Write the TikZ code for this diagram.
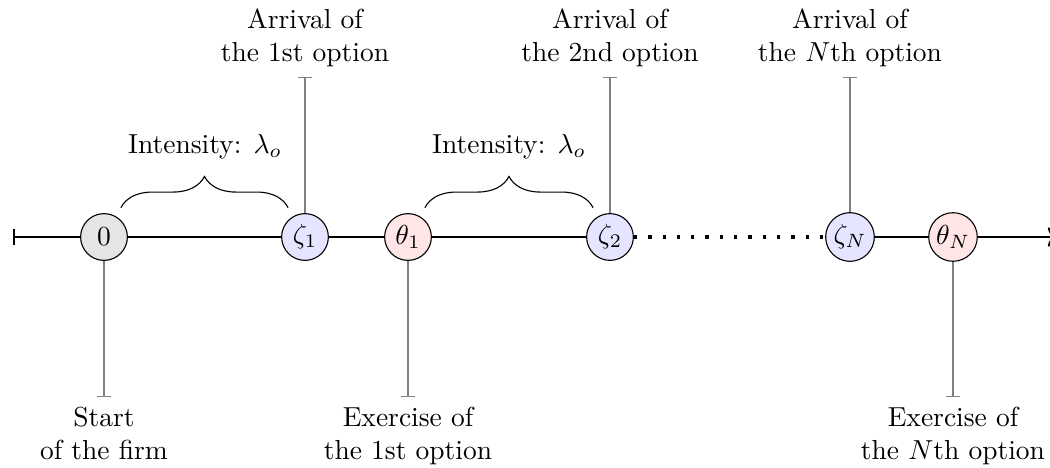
\documentclass[tikz,border=0pt]{standalone}
\usetikzlibrary{arrows.meta,decorations.pathreplacing}
\begin{document}
\begin{tikzpicture}[x=0.3636pt,y=-0.3636pt,
  ev/.style={circle,draw=black,thin,minimum size=17pt,inner sep=1pt},
  startev/.style={ev,fill=black!10},
  arrev/.style={ev,fill=blue!10},
  exev/.style={ev,fill=red!10},
  axisline/.style={thick},
  tickline/.style={gray,thin,-{Bar[width=5pt]}},
  lab/.style={align=center},
  bracepath/.style={decorate,decoration={brace,amplitude=4mm,raise=4.5pt}}]
\useasboundingbox (0,0) rectangle (1050,468);
% events
\node[startev] (n0) at (104,237) {$0$};
\node[arrev] (z1) at (305,237) {$\zeta_1$};
\node[exev] (t1) at (408,237) {$\theta_1$};
\node[arrev] (z2) at (610,237) {$\zeta_2$};
\node[arrev] (zN) at (850,237) {$\zeta_N$};
\node[exev] (tN) at (953,237) {$\theta_N$};
\coordinate (L) at (13,237);
\coordinate (R) at (1057,237);
% axis
\draw[axisline,{Bar[width=6pt]}-] (L) -- (n0);
\draw[axisline] (n0) -- (z1);
\draw[axisline] (z1) -- (t1);
\draw[axisline] (t1) -- (z2);
\draw[very thick,loosely dotted] (z2) -- (zN);
\draw[axisline] (zN) -- (tN);
\draw[axisline,->] (tN) -- (R);
% upper ticks
\coordinate (z1t) at (305,77);
\coordinate (z2t) at (610,77);
\coordinate (zNt) at (850,77);
\draw[tickline] (z1) -- (z1t);
\draw[tickline] (z2) -- (z2t);
\draw[tickline] (zN) -- (zNt);
\node[lab,anchor=south] (z1l) at (z1t) {Arrival of\\the 1st option};
\node[lab,anchor=south] (z2l) at (z2t) {Arrival of\\the 2nd option};
\node[lab,anchor=south] (zNl) at (zNt) {Arrival of\\the $N$th option};
% lower ticks
\coordinate (n0b) at (104,397);
\coordinate (t1b) at (408,397);
\coordinate (tNb) at (953,397);
\draw[tickline] (n0) -- (n0b);
\draw[tickline] (t1) -- (t1b);
\draw[tickline] (tN) -- (tNb);
\node[lab,anchor=north] (n0l) at (n0b) {Start\\of the firm};
\node[lab,anchor=north] (t1l) at (t1b) {Exercise of\\the 1st option};
\node[lab,anchor=north] (tNl) at (tNb) {Exercise of\\the $N$th option};
% braces
\draw[bracepath] (n0.north east) -- (z1.north west);
\draw[bracepath] (t1.north east) -- (z2.north west);
\node[anchor=base] (i1) at (205,153) {Intensity: $\lambda_o$};
\node[anchor=base] (i2) at (509,153) {Intensity: $\lambda_o$};
\end{tikzpicture}
\end{document}
